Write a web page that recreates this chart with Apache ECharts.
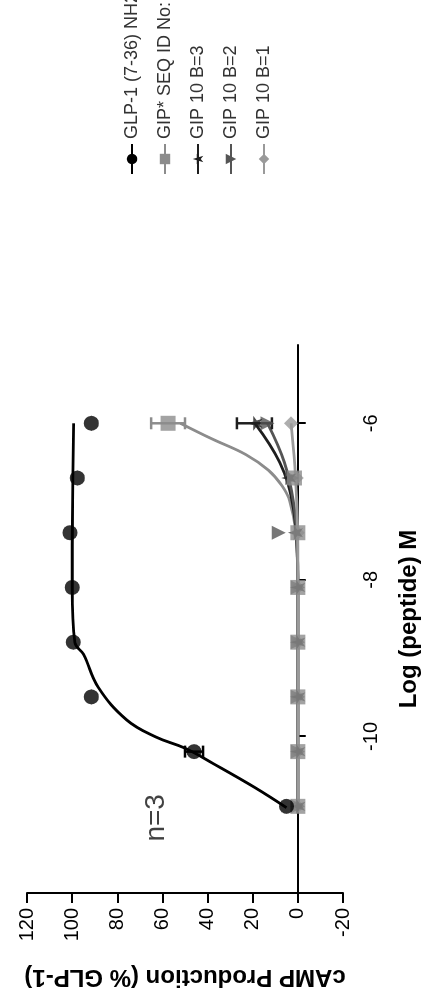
<!DOCTYPE html>
<html>
<head>
<meta charset="utf-8">
<script src="https://cdn.jsdelivr.net/npm/echarts@6/dist/echarts.min.js"></script>
<style>
  html, body { margin: 0; padding: 0; background: #fff; width: 426px; height: 1000px; overflow: hidden; }
  /* The chart is laid out landscape (1000 x 426) and turned a quarter turn counter-clockwise. */
  #chart { position: absolute; left: 0; top: 0; width: 1000px; height: 426px;
           transform-origin: 0 0; transform: translateY(1000px) rotate(-90deg); }
</style>
</head>
<body>
<div id="chart"></div>
<script>
// Log molar concentrations (five-fold dilution series)
const logDose = [-6, -6.699, -7.398, -8.097, -8.796, -9.495, -10.194, -10.893];

// Mean cAMP response, % of GLP-1 maximum
const glp1Values = [91.5, 97.7, 101, 100, 99.5, 91.5, 46, 5];
const gipStarValues = [57.5, 1.5, 0, 0, 0, 0, 0, 0];
const gipB3Values = [19, 4, 1, 0, 0, 0, 0, 0];
const gipB2Values = [13.5, 2.5, 8.5, 0, 0, 0, 0, 0];
const gipB1Values = [3, 0.5, 0, 0, 0, 0, 0, 0];

// Fitted concentration-response curves: [log dose, response]
const glp1Curve = [[-6, 99.3], [-7, 99.8], [-8.1, 100], [-8.8, 98.8], [-8.95, 95], [-9.37, 88.5],
                   [-9.79, 75.8], [-10.01, 62.7], [-10.15, 50], [-10.35, 37.3], [-10.65, 19.2], [-10.91, 5]];
const gipStarCurve = [[-6, 52], [-6.2, 38], [-6.4, 23], [-6.6, 13], [-6.8, 7], [-7.0, 3.5],
                      [-7.4, 0.8], [-8, 0], [-9, 0], [-10, 0], [-10.9, 0]];
const gipB3Curve = [[-6, 19], [-6.5, 8], [-7, 2.5], [-7.5, 0.5], [-8, 0], [-10.9, 0]];
const gipB2Curve = [[-6, 13.5], [-6.5, 6], [-7, 2], [-7.5, 0.5], [-8, 0], [-10.9, 0]];
const gipB1Curve = [[-6, 3], [-7, 0.5], [-8, 0], [-10.9, 0]];

// Error bars: [log dose, low, high]
const glp1Err = [[-10.194, 42, 50]];
const gipStarErr = [[-6, 50, 65]];
const gipB3Err = [[-6, 11.5, 27]];

// Legend entries and axis text
const seriesNames = ['GLP-1 (7-36) NH2', 'GIP* SEQ ID No: 7', 'GIP 10 B=3', 'GIP 10 B=2', 'GIP 10 B=1'];
const xAxisTitle = 'Log (peptide) M';
const yAxisTitle = 'cAMP Production (% GLP-1)';
const sampleNote = 'n=3';
const sampleNotePos = [-11.04, 62.7];

const FONT = '"Liberation Sans", Arial, sans-serif';
const starPath = 'path://M50,0 L61,35 L98,35 L68,57 L79,91 L50,70 L21,91 L32,57 L2,35 L39,35 Z';

const styles = [
  { color: '#000000', symbol: 'circle', size: 15 },
  { color: '#8c8c8c', symbol: 'rect', size: 15 },
  { color: '#1e1e1e', symbol: starPath, size: 15 },
  { color: '#555555', symbol: 'triangle', size: 14, rotate: 180 },
  { color: '#9a9a9a', symbol: 'diamond', size: 14 }
];
const pointSets = [glp1Values, gipStarValues, gipB3Values, gipB2Values, gipB1Values];
const curveSets = [glp1Curve, gipStarCurve, gipB3Curve, gipB2Curve, gipB1Curve];

function errorBars(id, color, bars) {
  return {
    type: 'custom', id, name: id, silent: true, z: 3, data: bars,
    renderItem(params, api) {
      const x = api.value(0);
      const p1 = api.coord([x, api.value(1)]);
      const p2 = api.coord([x, api.value(2)]);
      const cap = 6;
      const st = { stroke: color, lineWidth: 2.5 };
      return {
        type: 'group',
        children: [
          { type: 'line', shape: { x1: p1[0], y1: p1[1], x2: p2[0], y2: p2[1] }, style: st },
          { type: 'line', shape: { x1: p1[0] - cap, y1: p1[1], x2: p1[0] + cap, y2: p1[1] }, style: st },
          { type: 'line', shape: { x1: p2[0] - cap, y1: p2[1], x2: p2[0] + cap, y2: p2[1] }, style: st }
        ]
      };
    }
  };
}

const series = [];
seriesNames.forEach((name, i) => {
  const s = styles[i];
  series.push({
    type: 'line', name, data: curveSets[i], smooth: 0.4, showSymbol: false,
    symbol: s.symbol, symbolSize: s.size, symbolRotate: s.rotate || 0,
    lineStyle: { color: s.color, width: 2.8 }, itemStyle: { color: s.color },
    z: 2, silent: true
  });
});
seriesNames.forEach((name, i) => {
  const s = styles[i];
  series.push({
    type: 'scatter', name, data: logDose.map((d, k) => [d, pointSets[i][k]]),
    symbol: s.symbol, symbolSize: s.size, symbolRotate: s.rotate || 0,
    itemStyle: { color: s.color }, z: 4 + (4 - i), silent: true
  });
});
series.push(errorBars('glp1Err', '#000000', glp1Err));
series.push(errorBars('gipStarErr', '#8c8c8c', gipStarErr));
series.push(errorBars('gipB3Err', '#1e1e1e', gipB3Err));
series.push({
  type: 'scatter', id: 'note', name: 'note', silent: true, symbolSize: 0,
  data: [sampleNotePos],
  label: { show: true, position: 'inside', formatter: sampleNote,
           fontFamily: FONT, fontSize: 28, color: '#111' }
});

const chart = echarts.init(document.getElementById('chart'), null, { renderer: 'canvas' });
chart.setOption({
  animation: false,
  backgroundColor: '#ffffff',
  grid: { left: 107, right: 345, top: 27, bottom: 34, containLabel: false },
  legend: {
    data: seriesNames, orient: 'vertical', left: 820, top: 118,
    itemWidth: 30, itemHeight: 13, itemGap: 15,
    textStyle: { fontFamily: FONT, fontSize: 18, color: '#333' }
  },
  xAxis: {
    type: 'value', min: -12, max: -5, interval: 2,
    axisLine: { onZero: true, lineStyle: { color: '#000', width: 2 } },
    axisTick: { show: true, length: 8, lineStyle: { color: '#000', width: 2 } },
    axisLabel: { showMinLabel: false, showMaxLabel: false, margin: 18,
                 fontFamily: FONT, fontSize: 20, color: '#000',
                 formatter: v => (Number.isInteger(v) && v % 2 === 0 ? String(v) : '') },
    splitLine: { show: false },
    name: xAxisTitle, nameLocation: 'middle', nameGap: 54,
    nameTextStyle: { fontFamily: FONT, fontSize: 24, fontWeight: 'bold', color: '#000' }
  },
  yAxis: {
    type: 'value', min: -20, max: 120, interval: 20,
    axisLine: { show: true, onZero: false, lineStyle: { color: '#000', width: 2 } },
    axisTick: { show: true, length: 10, lineStyle: { color: '#000', width: 2 } },
    axisLabel: { margin: 15, fontFamily: FONT, fontSize: 20, color: '#000' },
    splitLine: { show: false },
    name: yAxisTitle, nameLocation: 'middle', nameGap: 72, nameRotate: 90,
    nameTextStyle: { fontFamily: FONT, fontSize: 24, fontWeight: 'bold', color: '#000' }
  },
  series
});
</script>
</body>
</html>
